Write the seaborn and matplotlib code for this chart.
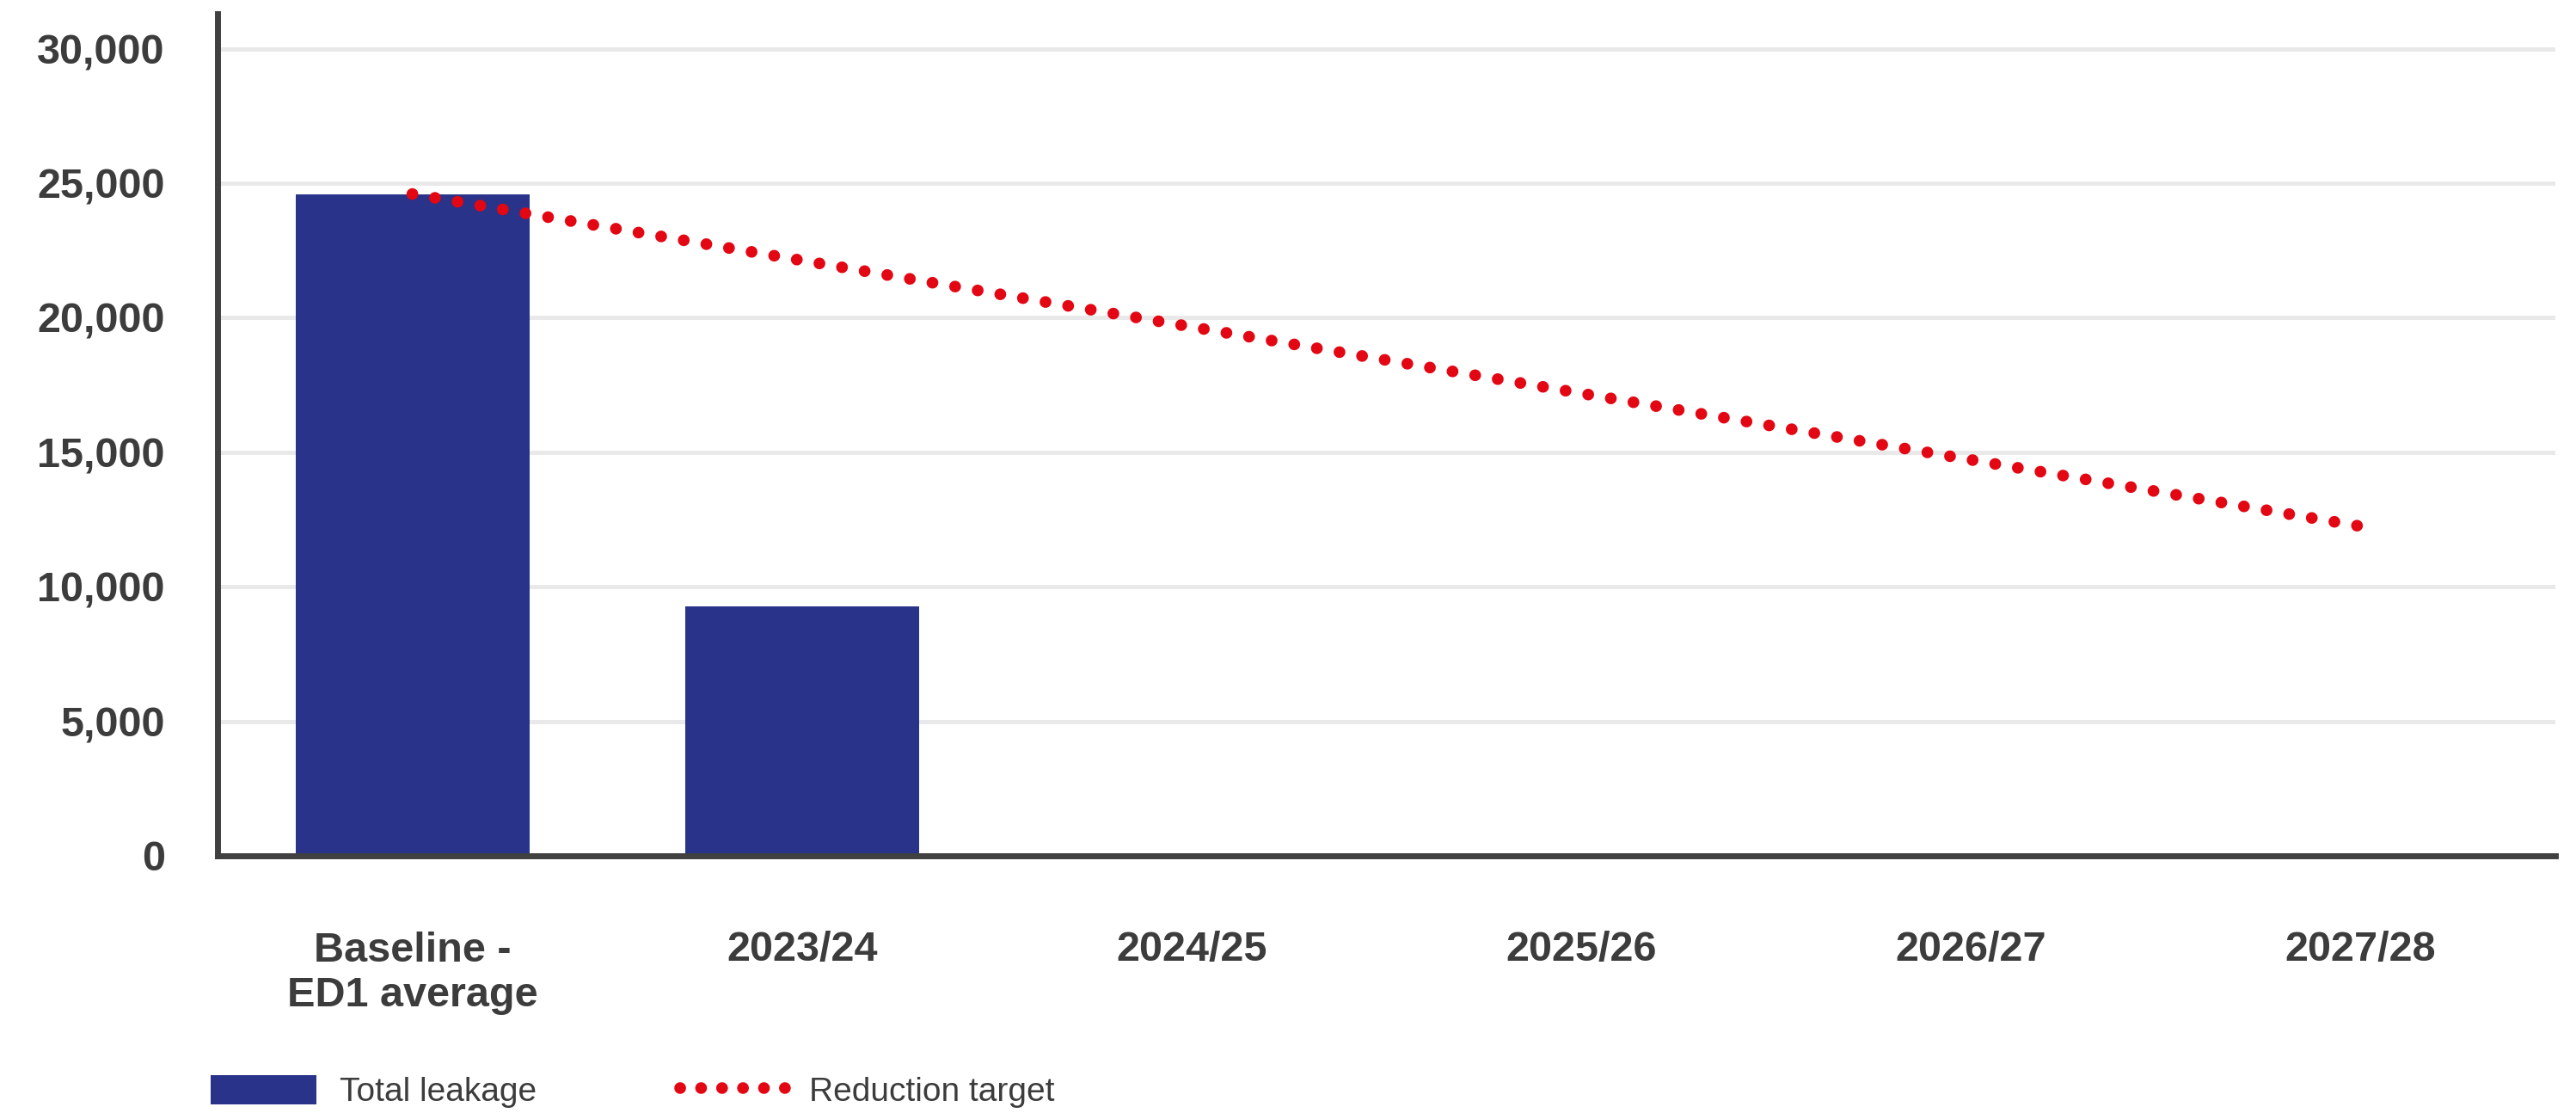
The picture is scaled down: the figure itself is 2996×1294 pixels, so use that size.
import numpy as np
import pandas as pd
import matplotlib
matplotlib.use("Agg")
import matplotlib.pyplot as plt
from matplotlib.patches import Rectangle
from matplotlib.lines import Line2D
from matplotlib.legend_handler import HandlerPatch
import seaborn as sns

# ---- data ----
categories = ["Baseline -\nED1 average", "2023/24", "2024/25", "2025/26", "2026/27", "2027/28"]
total_leakage = [24600, 9270, np.nan, np.nan, np.nan, np.nan]
reduction_target = [24600, 22130, 19660, 17190, 14720, 12250]
y_ticks = [0, 5000, 10000, 15000, 20000, 25000, 30000]

bar_color = "#283389"
red = "#e30613"
text_color = "#3c3c3c"

sns.set_theme(style="white")
plt.rcParams["font.family"] = ["Liberation Sans", "DejaVu Sans"]

fig = plt.figure(figsize=(29.96, 12.94), dpi=100)
ax = fig.add_axes([253 / 2996, 1 - 995 / 1294, (2972 - 253) / 2996, (995 - 16) / 1294])

df = pd.DataFrame({"cat": categories, "leak": total_leakage})
sns.barplot(data=df, x="cat", y="leak", order=categories, color=bar_color,
            saturation=1, width=0.6, linewidth=0, ax=ax, zorder=2)

sns.lineplot(x=categories, y=reduction_target, sort=False, color=red, ax=ax,
             linewidth=9.8, linestyle=(0, (0.01, 1.95)), dash_capstyle="round",
             zorder=3, legend=False)

ax.set_ylim(0, 31300)
ax.set_xlim(-0.5, 5.5)
ax.set_yticks(y_ticks)
ax.set_yticklabels([f"{v:,}" for v in y_ticks])
ax.grid(axis="y", color="#e9e9e9", linewidth=3.6, zorder=0)
ax.set_axisbelow(True)
ax.set_xlabel("")
ax.set_ylabel("")

for s in ["top", "right"]:
    ax.spines[s].set_visible(False)
for s in ["left", "bottom"]:
    ax.spines[s].set_color("#404040")
    ax.spines[s].set_linewidth(5)
    ax.spines[s].set_zorder(4)

ax.tick_params(axis="y", length=0, pad=44, labelsize=35, labelcolor=text_color)
ax.tick_params(axis="x", length=0, pad=63, labelsize=35, labelcolor=text_color)
for lbl in ax.get_yticklabels():
    lbl.set_fontweight("bold")
for lbl in ax.get_xticklabels():
    lbl.set_fontweight("bold")
    lbl.set_linespacing(1.2)


def narrow_patch(legend, orig_handle, xdescent, ydescent, width, height, fontsize):
    return Rectangle((-xdescent, -ydescent), width * 0.9, height)


bar_handle = ax.patches[0]
line_proxy = Line2D([], [], color=red, linewidth=9.8, linestyle=(0, (0.01, 1.78)),
                    dash_capstyle="round")
leg = fig.legend([bar_handle, line_proxy], ["Total leakage", "Reduction target"],
                 loc="center left", bbox_to_anchor=(245 / 2996, 1 - 1269 / 1294),
                 ncol=2, frameon=False, fontsize=28, handlelength=3.5, handleheight=1.0,
                 handletextpad=0.35, columnspacing=4.3, borderpad=0, borderaxespad=0,
                 handler_map={Rectangle: HandlerPatch(patch_func=narrow_patch)})
for t in leg.get_texts():
    t.set_color(text_color)

fig.savefig("out.png", dpi=100)
